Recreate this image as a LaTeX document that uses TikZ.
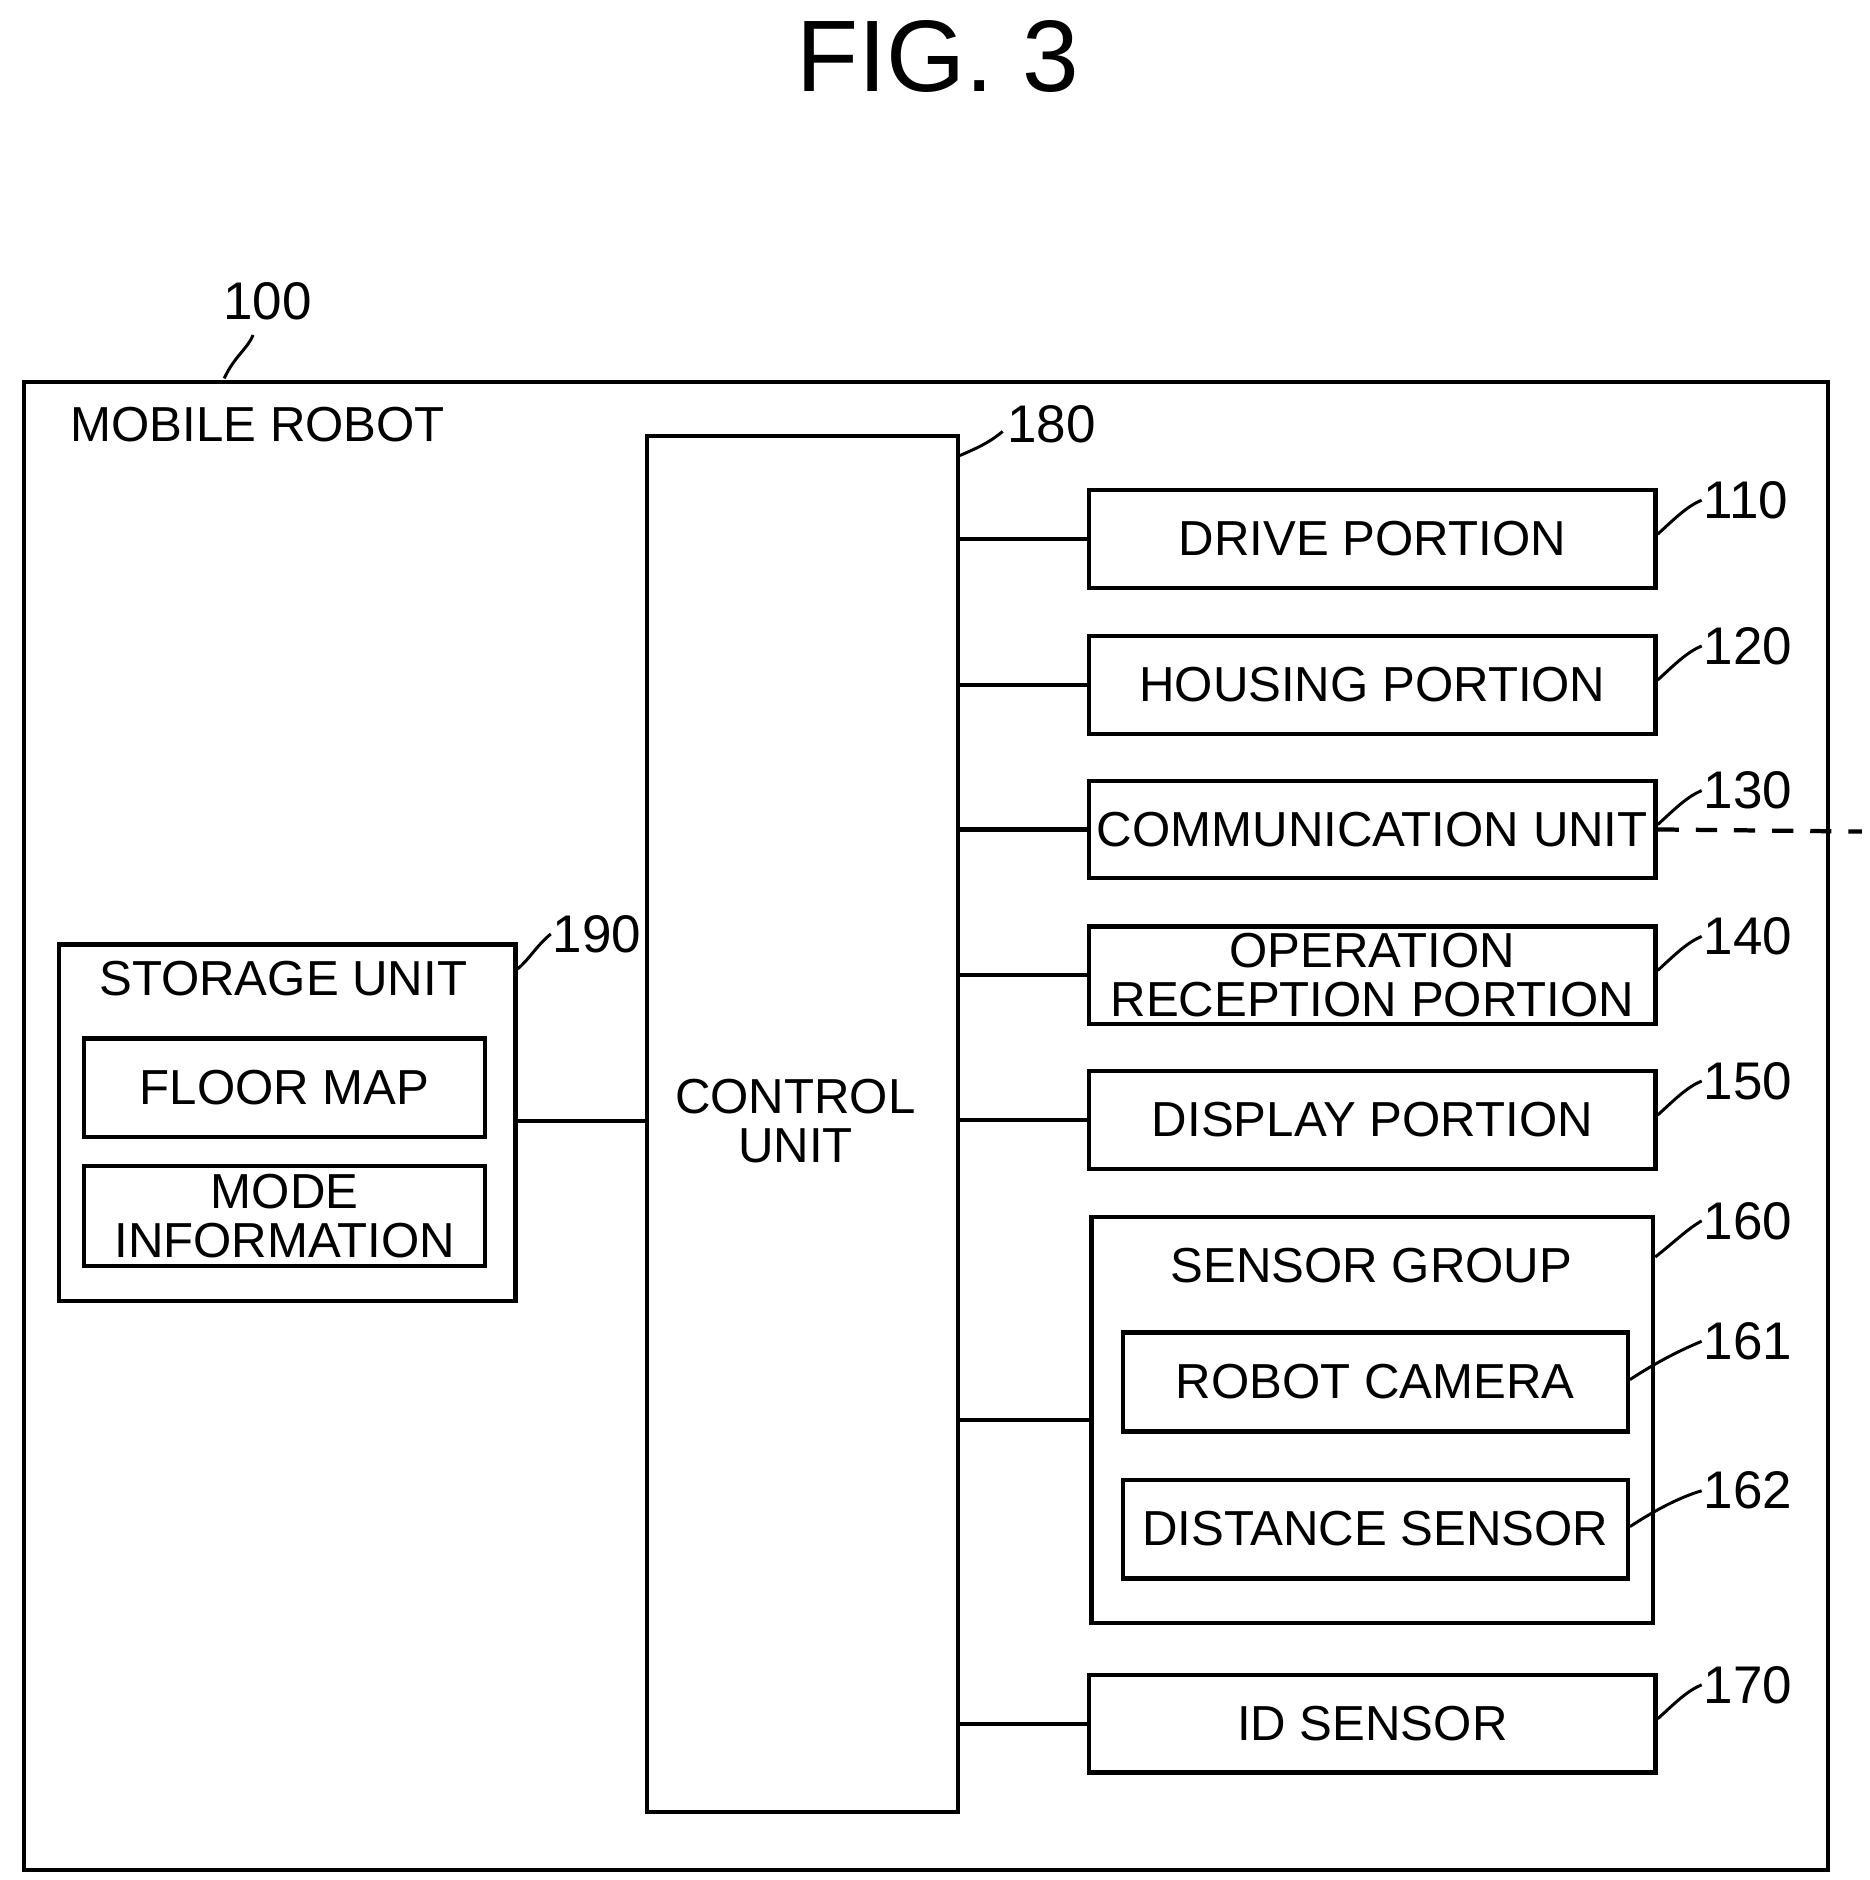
\documentclass[tikz,border=0pt]{standalone}
\usepackage{fontspec}
\setmainfont{Liberation Sans}
\begin{document}
\begin{tikzpicture}[x=0.01cm,y=-0.01cm,
  box/.style={draw,line width=1pt,inner sep=0pt,anchor=north west},
  txt/.style={font=\fontsize{11.6}{11.6}\selectfont,align=center,inner sep=0pt},
  num/.style={font=\fontsize{12.5}{13}\selectfont,anchor=west,inner sep=0pt},
  lead/.style={line width=0.7pt},
  conn/.style={line width=1pt}]
\useasboundingbox (0,0) rectangle (1551,1560);
\node[font=\fontsize{24}{26}\selectfont] (title) at (778,47) {FIG. 3};
% outer
\node[box,minimum width=1497*0.01cm,minimum height=1235*0.01cm] (outer) at (18,315) {};
\node[txt,anchor=west] (mr) at (58,352) {MOBILE ROBOT};
\node[num,anchor=center] (n100) at (222,250) {100};
\coordinate (o100) at (186,314);
\draw[lead] (o100) .. controls (195,295) and (205,290) .. (210,278);
% control unit
\node[box,minimum width=258*0.01cm,minimum height=1142*0.01cm] (cu) at (535,360) {};
\node[txt] (cut) at (660,930) {CONTROL\\UNIT};
\node[num] (n180) at (835,352) {180};
\draw[lead] (cu.north east)++(0,18) .. controls (810,372) and (820,368) .. (832,358);
% right boxes
\foreach \nm/\y/\t/\lab in {drive/405/DRIVE PORTION/110,housing/526/HOUSING PORTION/120,comm/646/COMMUNICATION UNIT/130,display/887/DISPLAY PORTION/150,id/1388/ID SENSOR/170}{
  \node[box,minimum width=470*0.01cm,minimum height=81*0.01cm] (\nm) at (902,\y) {};
  \node[txt] at (\nm.center) {\t};
  \node[num] (l\nm) at (1413,\y+10) {\lab};
  \draw[lead] (\nm.east)++(0,-4) .. controls (1390,\y+25) and (1400,\y+15) .. (1412,\y+10);
  \draw[conn] (cu.east|-\nm.west) -- (\nm.west);
}
\node[box,minimum width=470*0.01cm,minimum height=81*0.01cm] (op) at (902,767) {};
\node[txt] at (op.center) {OPERATION\\RECEPTION PORTION};
\node[num] (lop) at (1413,777) {140};
\draw[lead] (op.east)++(0,-4) .. controls (1390,792) and (1400,782) .. (1412,777);
\draw[conn] (cu.east|-op.west) -- (op.west);
\draw[conn,dash pattern=on 5pt off 4pt] (comm.east) -- (1545,690);
% sensor group
\node[box,minimum width=466*0.01cm,minimum height=337*0.01cm] (sg) at (904,1008) {};
\node[txt] (sgt) at (1138,1050) {SENSOR GROUP};
\node[num] (lsg) at (1413,1013) {160};
\draw[lead] (sg.north east)++(0,35) .. controls (1390,1030) and (1400,1020) .. (1412,1013);
\draw[conn] (cu.east|-sg.west) -- (sg.west);
\node[box,minimum width=419*0.01cm,minimum height=82*0.01cm] (cam) at (930,1104) {};
\node[txt] at (cam.center) {ROBOT CAMERA};
\node[num] (lcam) at (1413,1113) {161};
\draw[lead] (cam.east)++(0,-2) .. controls (1375,1130) and (1395,1120) .. (1412,1113);
\node[box,minimum width=419*0.01cm,minimum height=82*0.01cm] (dist) at (930,1226) {};
\node[txt] at (dist.center) {DISTANCE SENSOR};
\node[num] (ldist) at (1413,1237) {162};
\draw[lead] (dist.east)++(0,-2) .. controls (1375,1252) and (1395,1242) .. (1412,1237);
% storage
\node[box,minimum width=379*0.01cm,minimum height=296*0.01cm] (st) at (47,782) {};
\node[txt] (stt) at (235,812) {STORAGE UNIT};
\node[box,minimum width=333*0.01cm,minimum height=82*0.01cm] (fm) at (68,860) {};
\node[txt] at (fm.center) {FLOOR MAP};
\node[box,minimum width=333*0.01cm,minimum height=83*0.01cm] (mi) at (68,966) {};
\node[txt] at (mi.center) {MODE\\INFORMATION};
\node[num] (lst) at (458,775) {190};
\draw[lead] (st.north east)++(0,22) .. controls (440,795) and (445,785) .. (457,775);
\draw[conn] (st.east|-cut) -- (cu.west|-cut);
\end{tikzpicture}
\end{document}
